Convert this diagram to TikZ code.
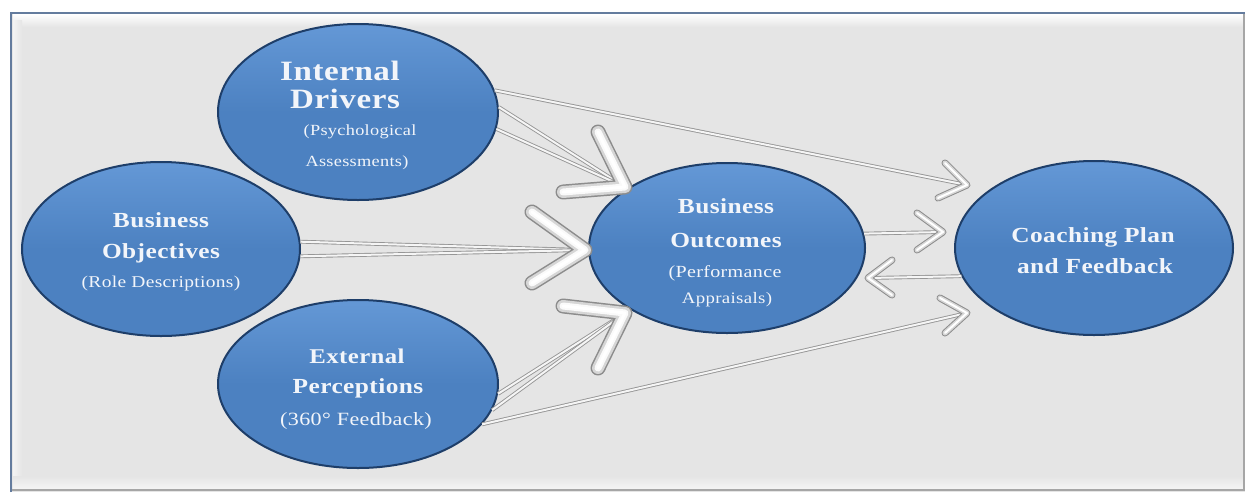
\documentclass[tikz,border=0pt]{standalone}
\usepackage{fontspec}
\setmainfont{Liberation Serif}[FakeStretch=1.18,LetterSpace=2]
\usetikzlibrary{shapes.geometric,calc}
\definecolor{bgc}{RGB}{229,229,229}
\definecolor{framec}{RGB}{100,124,158}
\definecolor{ellfill}{RGB}{76,129,193}
\definecolor{ellhi}{RGB}{100,152,214}
\definecolor{ellrim}{RGB}{30,62,105}
\definecolor{txtc}{RGB}{242,245,250}
\definecolor{tubeedge}{RGB}{140,140,140}
\definecolor{tubefill}{RGB}{214,214,214}
\definecolor{shaftc}{RGB}{150,150,150}
\begin{document}
\begin{tikzpicture}[x=1pt,y=-1pt,
  oval/.style={ellipse, draw=ellrim, line width=2pt, top color=ellhi, bottom color=ellfill, middle color=ellfill, inner sep=0pt},
  lbl/.style={anchor=base, text=txtc, inner sep=0pt},
  ttl/.style={lbl, font=\fontsize{21.5}{24}\selectfont\bfseries},
  sub/.style={lbl, font=\fontsize{16.5}{19}\selectfont},
  shaft/.style={draw=shaftc, line width=0.9pt, double=white!92!gray, double distance=2pt},
  bigchev/.style={draw=tubeedge, line width=15pt, line cap=round, line join=round,
     postaction={draw=tubefill, line width=12pt},
     postaction={draw=white!96!gray, line width=7pt},
     postaction={draw=white, line width=3pt}},
  smallchev/.style={draw=tubeedge, line width=7pt, line cap=round, line join=round,
     postaction={draw=tubefill, line width=5pt},
     postaction={draw=white, line width=2pt}}]
\useasboundingbox (0,0) rectangle (1247,493);
% frame
\fill[white] (0,0) rectangle (1247,493);
\fill[bgc] (11,13) rectangle (1245,492);
\fill[top color=white, bottom color=bgc] (13,14) rectangle (1243,27);
\fill[left color=white!55!bgc, right color=bgc] (13,20) rectangle (22,488);
\fill[top color=bgc, bottom color=white!60!bgc] (13,476) rectangle (1243,489);
\draw[gray!70, line width=2pt] (12,490) -- (1244,490) -- (1244,14);
\draw[framec, line width=2.5pt] (11,492) -- (11,13) -- (1245,13);

% ellipses
\node[oval, minimum width=280pt, minimum height=176pt] (id) at (358,112) {};
\node[oval, minimum width=278pt, minimum height=174pt] (bobj) at (161,249) {};
\node[oval, minimum width=280pt, minimum height=168pt] (ep) at (358,384) {};
\node[oval, minimum width=276pt, minimum height=170pt] (bout) at (727,248) {};
\node[oval, minimum width=278pt, minimum height=174pt] (coach) at (1094,248) {};

% labels
\node[lbl, font=\fontsize{28}{30}\selectfont\bfseries] (id1) at (340,80) {Internal};
\node[lbl, font=\fontsize{28}{30}\selectfont\bfseries] (id2) at (345,108) {Drivers};
\node[lbl, font=\fontsize{15.5}{18}\selectfont] (id3) at (360,135) {(Psychological};
\node[lbl, font=\fontsize{15.5}{18}\selectfont] (id4) at (357,166) {Assessments)};

\node[ttl] (bo1) at (161,227) {Business};
\node[ttl] (bo2) at (161,258) {Objectives};
\node[sub] (bo3) at (161,287) {(Role Descriptions)};

\node[ttl, font=\fontsize{21}{24}\selectfont\bfseries] (ep1) at (357,363) {External};
\node[ttl, font=\fontsize{21.5}{24}\selectfont\bfseries] (ep2) at (358,393) {Perceptions};
\node[lbl, font=\fontsize{18.7}{21}\selectfont] (ep3) at (356,425) {(360° Feedback)};

\node[ttl] (bu1) at (726,213) {Business};
\node[ttl] (bu2) at (726,247) {Outcomes};
\node[lbl, font=\fontsize{17}{19}\selectfont] (bu3) at (725,277) {(Performance};
\node[lbl, font=\fontsize{16}{19}\selectfont] (bu4) at (727,303) {Appraisals)};

\node[ttl] (co1) at (1093,242) {Coaching Plan};
\node[ttl] (co2) at (1095,273) {and Feedback};

% arrow tips
\coordinate (t1) at (625,187);
\coordinate (t2) at (585,250);
\coordinate (t3) at (625,313);
\coordinate (t4) at (967,185);
\coordinate (t5) at (943,232);
\coordinate (t6) at (868,278);
\coordinate (t7) at (967,313);

% shafts
\draw[shaft] (id.2) -- (t1);
\draw[shaft] (id.-7) -- (t1);
\draw[shaft] (bobj.3) -- (t2);
\draw[shaft] (bobj.-3) -- (t2);
\draw[shaft] (ep.-4) -- (t3);
\draw[shaft] (ep.-11) -- (t3);
\draw[shaft] (id.9) -- (t4);
\draw[shaft] (bout.6) -- (t5);
\draw[shaft] (coach.192) -- (t6);
\draw[shaft] (ep.-18) -- (t7);

% chevrons
\draw[bigchev] (t1) ++(-27,-55) -- (t1) -- ++(-62,5);
\draw[bigchev] (t2) ++(-53,-38) -- (t2) -- ++(-53,33);
\draw[bigchev] (t3) ++(-62,-7) -- (t3) -- ++(-27,55);
\draw[smallchev] (t4) ++(-22,-22) -- (t4) -- ++(-29,13);
\draw[smallchev] (t5) ++(-26,-19) -- (t5) -- ++(-26,18);
\draw[smallchev] (t6) ++(24,-18) -- (t6) -- ++(24,17);
\draw[smallchev] (t7) ++(-27,-15) -- (t7) -- ++(-22,20);
\end{tikzpicture}
\end{document}
